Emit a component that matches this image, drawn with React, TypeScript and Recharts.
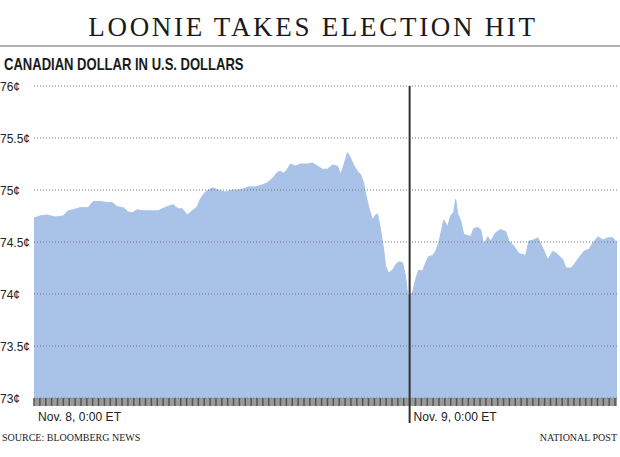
import React from 'react';
import { AreaChart, Area, XAxis, YAxis, ReferenceLine, ReferenceArea } from 'recharts';

// hours since Nov. 8, 0:00 ET
const hours = [
  0, 0.38, 0.83, 1.34, 1.86, 2.18, 2.5, 2.94, 3.46, 3.78, 4.22, 4.67, 4.99, 5.31, 5.7, 6.02,
  6.27, 6.59, 6.98, 7.42, 7.94, 8.19, 8.51, 8.9, 9.02, 9.22, 9.47, 9.79, 10.11, 10.43, 10.62,
  10.94, 11.26, 11.46, 11.78, 12.22, 12.67, 13.06, 13.38, 13.7, 14.14, 14.59, 14.91, 15.23,
  15.55, 15.74, 15.94, 16.19, 16.38, 16.7, 17.02, 17.47, 17.79, 18.11, 18.43, 18.75, 19.07,
  19.39, 19.58, 19.78, 20.03, 20.22, 20.42, 20.67, 20.86, 21.06, 21.18, 21.38, 21.63, 21.82,
  21.95, 22.14, 22.34, 22.46, 22.66, 22.91, 23.1, 23.3, 23.55, 23.74, 23.87, 24.19, 24.38,
  24.58, 24.83, 25.02, 25.22, 25.47, 25.66, 25.86, 26.05, 26.18, 26.43, 26.62, 26.82, 26.94,
  27.07, 27.26, 27.46, 27.58, 27.9, 28.1, 28.35, 28.54, 28.74, 28.99, 29.18, 29.5, 29.82,
  30.14, 30.34, 30.66, 30.98, 31.42, 31.62, 31.94, 32.19, 32.51, 32.83, 33.15, 33.47, 33.79,
  33.98, 34.3, 34.5, 34.82, 35.14, 35.46, 35.71, 36.03, 36.35, 36.67, 36.99, 37.25,
];

// Canadian dollar, in U.S. cents
const cents = [
  74.73, 74.75, 74.76, 74.74, 74.75, 74.8, 74.81, 74.83, 74.83, 74.89, 74.89, 74.88, 74.88,
  74.84, 74.83, 74.79, 74.78, 74.81, 74.8, 74.8, 74.8, 74.82, 74.84, 74.86, 74.84, 74.82,
  74.82, 74.76, 74.8, 74.84, 74.91, 74.98, 75.01, 75.02, 75.0, 74.98, 75.0, 75.0, 75.01,
  75.03, 75.03, 75.05, 75.07, 75.11, 75.17, 75.18, 75.16, 75.2, 75.25, 75.23, 75.25, 75.25,
  75.26, 75.23, 75.2, 75.2, 75.24, 75.23, 75.15, 75.23, 75.36, 75.31, 75.24, 75.18, 75.15,
  75.07, 74.97, 74.84, 74.71, 74.76, 74.77, 74.62, 74.43, 74.27, 74.2, 74.23, 74.28, 74.31,
  74.3, 74.17, 73.99, 74.01, 74.14, 74.23, 74.22, 74.3, 74.36, 74.37, 74.41, 74.49, 74.62,
  74.71, 74.65, 74.75, 74.79, 74.91, 74.77, 74.71, 74.57, 74.57, 74.55, 74.63, 74.64, 74.62,
  74.47, 74.55, 74.51, 74.59, 74.62, 74.6, 74.51, 74.46, 74.39, 74.37, 74.51, 74.52, 74.54,
  74.44, 74.33, 74.41, 74.38, 74.33, 74.25, 74.25, 74.28, 74.35, 74.41, 74.43, 74.49, 74.55,
  74.52, 74.54, 74.54, 74.49,
];

const yTicks = [73, 73.5, 74, 74.5, 75, 75.5, 76];
const yLabels = ['73¢', '73.5¢', '74¢', '74.5¢', '75¢', '75.5¢', '76¢'];
const dayTicks = [0, 24];
const dayLabels = ['Nov. 8, 0:00 ET', 'Nov. 9, 0:00 ET'];

const data = hours.map((h, i) => ({ h, v: cents[i] }));

// hatch marks along the bottom strip
const stripTicks: number[] = [];
for (let t = 0; t <= 37.25; t += 0.375) stripTicks.push(Math.round(t * 1000) / 1000);

const sans = "'Liberation Sans', Arial, sans-serif";
const serif = "'Liberation Serif', 'Times New Roman', serif";

function YTick(props: any) {
  const { y, payload } = props;
  const i = yTicks.indexOf(payload.value);
  return (
    <text x={0} y={y + 4.5} textAnchor="start" fontSize={12} fontFamily={sans} fill="#222">
      {yLabels[i]}
    </text>
  );
}

function XTick(props: any) {
  const { x, y, payload } = props;
  const i = dayTicks.indexOf(payload.value);
  if (i < 0) return null;
  return (
    <g>
      {payload.value === 24 && (
        <line x1={x} x2={x} y1={y - 10} y2={y + 15} stroke="#333" strokeWidth={2} />
      )}
      <text
        transform={`translate(${x + 4},${y + 13}) scale(0.93,1)`}
        fontSize={13}
        fontFamily={sans}
        fill="#222"
      >
        {dayLabels[i]}
      </text>
    </g>
  );
}

export default function App() {
  return (
    <div style={{ position: 'absolute', left: 0, top: 0, width: 620, height: 457, background: '#fff' }}>
      <svg width={620} height={457} style={{ position: 'absolute', left: 0, top: 0 }}>
        <text x={313} y={36} textAnchor="middle" fontFamily={serif} fontSize={27} letterSpacing={2.7} fill="#1a1a1a">
          LOONIE TAKES ELECTION HIT
        </text>
        <line x1={0} x2={620} y1={46} y2={46} stroke="#999" strokeWidth={1.5} />
        <text transform="translate(4,70) scale(0.79,1)" fontFamily={sans} fontWeight="bold" fontSize={16.5} fill="#1a1a1a">
          CANADIAN DOLLAR IN U.S. DOLLARS
        </text>
        <text x={2} y={441} fontFamily={serif} fontSize={10} fill="#222">SOURCE: BLOOMBERG NEWS</text>
        <text x={617} y={441} textAnchor="end" fontFamily={serif} fontSize={10} fill="#222">NATIONAL POST</text>
      </svg>
      <div style={{ position: 'absolute', left: 0, top: 0 }}>
        <AreaChart width={620} height={457} data={data} margin={{ top: 86, right: 3, bottom: 29, left: 0 }}>
          <XAxis
            dataKey="h"
            type="number"
            domain={[0, 37.25]}
            ticks={stripTicks}
            interval={0}
            height={30}
            axisLine={false}
            tickSize={8}
            tickLine={{ stroke: '#555', strokeWidth: 1.5 }}
            tick={<XTick />}
          />
          <YAxis
            type="number"
            domain={[73, 76]}
            ticks={yTicks}
            width={34}
            axisLine={false}
            tickLine={false}
            tick={<YTick />}
          />
          <Area
            type="linear"
            dataKey="v"
            stroke="#a8c3e7"
            strokeWidth={1}
            fill="#a8c3e7"
            fillOpacity={1}
            isAnimationActive={false}
          />
          <ReferenceArea y1={72.923} y2={73} ifOverflow="visible" fill="#9a9a9a" fillOpacity={1} stroke="none" />
          {yTicks.map(t => (
            <ReferenceLine key={t} y={t} stroke="#777" strokeDasharray="1 2" />
          ))}
          <ReferenceLine x={24} stroke="#333" strokeWidth={2} />
        </AreaChart>
      </div>
    </div>
  );
}
